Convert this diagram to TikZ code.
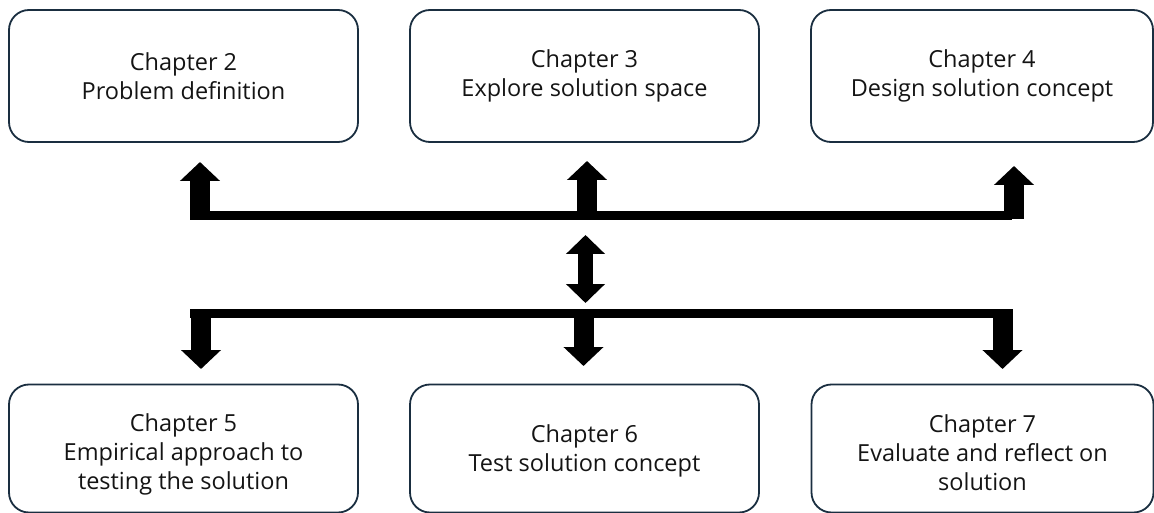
\documentclass[tikz,border=0pt]{standalone}
\usepackage{fontspec}
\setmainfont{Open Sans}
\usetikzlibrary{arrows.meta}
\definecolor{boxline}{HTML}{1A2E40}
\tikzset{
  chapbox/.style={draw=boxline, line width=1.8pt, rounded corners=20pt,
    minimum width=349pt, minimum height=132pt, inner sep=0pt},
  lowbox/.style={chapbox, minimum height=128pt},
  chaptext/.style={align=center, inner sep=0pt, text=black!92,
    font=\fontsize{23.5}{29.2}\selectfont},
  bus/.style={line width=9pt, line cap=butt},
  blockarrow/.style={line width=20pt, line cap=butt,
    -{Triangle[length=19pt,width=39pt]}},
  dblarrow/.style={line width=15pt, line cap=butt,
    {Triangle[length=19pt,width=38pt]}-{Triangle[length=19pt,width=38pt]}}
}
\begin{document}
\begin{tikzpicture}[x=1pt,y=-1pt]
\useasboundingbox (0,0) rectangle (1154,513);

% chapter frames
\node[chapbox] (c2) at (183.5,76) {};
\node[chapbox] (c3) at (584.5,76) {};
\node[chapbox, minimum width=342pt] (c4) at (982,76) {};
\node[lowbox] (c5) at (183.5,448.5) {};
\node[lowbox] (c6) at (584.5,448.5) {};
\node[lowbox, minimum width=342pt] (c7) at (982.5,448.5) {};

% chapter titles
\node[chaptext] (t2) at (c2.center) {Chapter 2\\Problem definition};
\node[chaptext] (t3) at (c3.center) {Chapter 3\\Explore solution space};
\node[chaptext] (t4) at (c4.center) {Chapter 4\\Design solution concept};
\node[chaptext] (t5) at ([yshift=-6pt]c5.center) {Chapter 5\\Empirical approach to\\testing the solution};
\node[chaptext] (t6) at ([yshift=-2pt]c6.center) {Chapter 6\\Test solution concept};
\node[chaptext] (t7) at ([yshift=-4pt]c7.center) {Chapter 7\\Evaluate and reflect on\\solution};

% upper bus and its arrows
\coordinate (ubL) at (190,215.5);
\coordinate (ubR) at (1012,215.5);
\draw[bus] (ubL) -- (ubR);
\coordinate (u2) at (200,220);
\coordinate (u3) at (587,220);
\coordinate (u4) at (1014,219.5);
\draw[blockarrow] (u2) -- (u2 |- 0,162);
\draw[blockarrow] (u3) -- (u3 |- 0,161);
\draw[blockarrow] (u4) -- (u4 |- 0,166);

% link between the two buses
\coordinate (mTop) at (585.5,235);
\coordinate (mBot) at (585.5,303);
\draw[dblarrow] (mTop) -- (mBot);

% lower bus and its arrows
\coordinate (lbL) at (190,313.5);
\coordinate (lbR) at (1012,313.5);
\draw[bus] (lbL) -- (lbR);
\coordinate (d5) at (201,309);
\coordinate (d6) at (583.5,309);
\coordinate (d7) at (1002.5,309);
\draw[blockarrow] (d5) -- (d5 |- 0,369);
\draw[blockarrow] (d6) -- (d6 |- 0,366);
\draw[blockarrow] (d7) -- (d7 |- 0,369);
\end{tikzpicture}
\end{document}
